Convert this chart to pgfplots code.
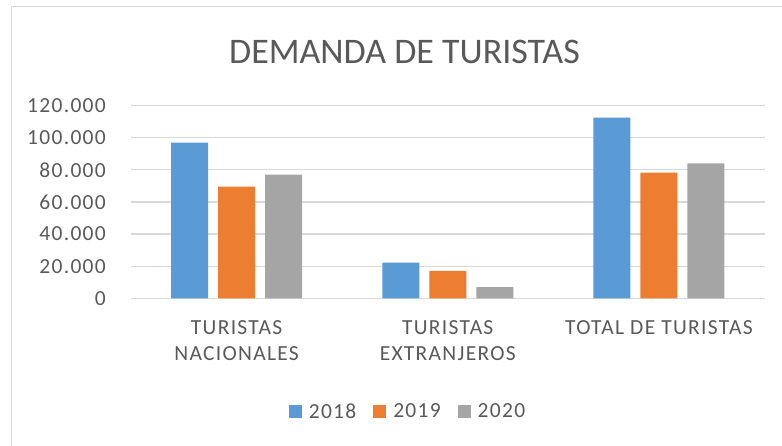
\documentclass[border=0pt]{standalone}
\usepackage{fontspec}
\setmainfont{Carlito}
\newfontfamily\lab[LetterSpace=6]{Carlito}
\usepackage{pgfplots}
\pgfplotsset{compat=1.18}
\definecolor{c2018}{HTML}{5B9BD5}
\definecolor{c2019}{HTML}{ED7D31}
\definecolor{c2020}{HTML}{A5A5A5}
\definecolor{gridgray}{HTML}{D9D9D9}
\definecolor{textgray}{HTML}{595959}
\begin{document}
\begin{tikzpicture}
\useasboundingbox (0,0) rectangle (782pt,446pt);
\draw[gridgray, line width=1.2pt] (11.5pt,-10pt) rectangle (800pt,439.5pt);
\node[anchor=base, text=textgray, font=\fontsize{36}{43}\selectfont, inner sep=0pt] at (404.5pt,382.7pt) {DEMANDA DE TURISTAS};
\begin{axis}[
  at={(131pt,147.7pt)}, anchor=south west,
  scale only axis, width=633.5pt, height=192.6pt,
  xmin=-0.5, xmax=2.5, ymin=0, ymax=120000,
  xtick={0,1,2},
  xticklabels={{TURISTAS\\NACIONALES},{TURISTAS\\EXTRANJEROS},{TOTAL DE TURISTAS}},
  ytick={0,20000,40000,60000,80000,100000,120000},
  yticklabels={0,20.000,40.000,60.000,80.000,100.000,120.000},
  scaled y ticks=false,
  yticklabel style={anchor=east, inner sep=0pt, xshift=-25pt, text=textgray, font=\lab\fontsize{21.5}{26}\selectfont},
  xticklabel style={align=center, anchor=north, inner sep=0pt, yshift=-22pt, text=textgray, font=\lab\fontsize{21.5}{26}\selectfont},
  axis line style={draw=none},
  major tick style={draw=none},
  ymajorgrids, grid style={gridgray, line width=1.2pt},
  bar width=37pt,
  legend columns=3,
  legend style={at={(0.4357,-0.589)}, anchor=center, draw=none, fill=none,
    font=\lab\fontsize{21.5}{26}\selectfont, text=textgray,
    /tikz/every odd column/.append style={column sep=7pt},
    /tikz/every even column/.append style={column sep=17pt},
    nodes={inner sep=0pt}},
  legend image code/.code={\fill[#1] (0pt,-6.5pt) rectangle (13pt,6.5pt);},
]
\addplot[ybar, fill=c2018, draw=none, bar shift=-47pt] coordinates {(0,97000) (1,22300) (2,112500)};
\addplot[ybar, fill=c2019, draw=none, bar shift=0pt] coordinates {(0,69600) (1,17100) (2,78300)};
\addplot[ybar, fill=c2020, draw=none, bar shift=47pt] coordinates {(0,77100) (1,6900) (2,84100)};
\legend{2018,2019,2020}
\end{axis}
\end{tikzpicture}
\end{document}
